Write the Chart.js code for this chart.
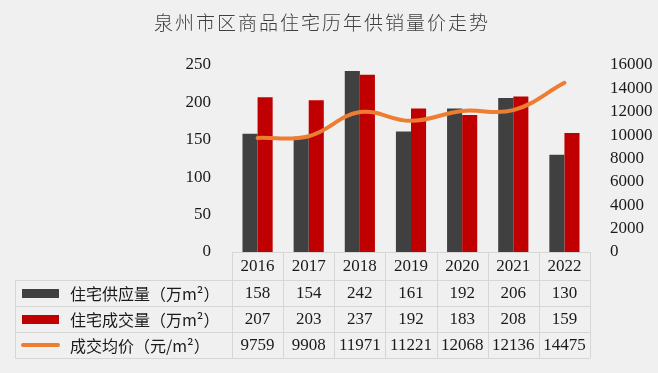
<!DOCTYPE html>
<html>
<head>
<meta charset="utf-8">
<script src="https://cdn.jsdelivr.net/npm/chart.js@4.4.1/dist/chart.umd.min.js"></script>
<style>
  html, body { margin: 0; padding: 0; background: #f0f0f0; }
  #wrap { width: 658px; height: 373px; }
</style>
</head>
<body>
<div id="wrap"><canvas id="c" width="658" height="373"></canvas></div>
<script>
const titleText = '泉州市区商品住宅历年供销量价走势';
const years = ['2016', '2017', '2018', '2019', '2020', '2021', '2022'];
const supply = [158, 154, 242, 161, 192, 206, 130];
const sales = [207, 203, 237, 192, 183, 208, 159];
const avgPrice = [9759, 9908, 11971, 11221, 12068, 12136, 14475];
const seriesNames = ['住宅供应量（万m²）', '住宅成交量（万m²）', '成交均价（元/m²）'];
const leftTicks = [0, 50, 100, 150, 200, 250];
const rightTicks = [0, 2000, 4000, 6000, 8000, 10000, 12000, 14000, 16000];

const COL_DARK = '#404040';
const COL_RED = '#c00000';
const COL_ORANGE = '#ed7d31';
const GRID = '#d6d6d6';
const TEXT = '#1a1a1a';
const SERIF = '"Liberation Serif", "Noto Sans CJK SC", serif';

const tablePlugin = {
  id: 'tablePlugin',
  afterDraw(chart) {
    const ctx = chart.ctx;
    const area = chart.chartArea;
    const xs = chart.scales.x;
    const n = years.length;
    const colW = (area.right - area.left) / n;
    const rows = [area.bottom, 280, 306, 332, 358];
    const tableLeft = 15;
    ctx.save();
    // title
    ctx.fillStyle = '#404040';
    ctx.font = '300 19px "Noto Sans CJK SC"';
    ctx.textAlign = 'center';
    ctx.textBaseline = 'middle';
    if ('letterSpacing' in ctx) ctx.letterSpacing = '2px';
    ctx.fillText(titleText, 322, 23);
    if ('letterSpacing' in ctx) ctx.letterSpacing = '0px';

    // grid lines
    ctx.strokeStyle = GRID;
    ctx.lineWidth = 1;
    ctx.beginPath();
    ctx.moveTo(area.left, rows[0] + 0.5); ctx.lineTo(area.right, rows[0] + 0.5);
    for (let r = 1; r < rows.length; r++) {
      ctx.moveTo(tableLeft, rows[r] + 0.5); ctx.lineTo(area.right, rows[r] + 0.5);
    }
    for (let i = 0; i <= n; i++) {
      const x = Math.round(area.left + i * colW) + 0.5;
      ctx.moveTo(x, rows[0]); ctx.lineTo(x, rows[rows.length - 1] + 0.5);
    }
    ctx.moveTo(tableLeft + 0.5, rows[1]); ctx.lineTo(tableLeft + 0.5, rows[rows.length - 1] + 0.5);
    ctx.stroke();

    // cell text
    ctx.fillStyle = TEXT;
    ctx.font = '17px ' + SERIF;
    ctx.textAlign = 'center';
    ctx.textBaseline = 'middle';
    const tableRows = [years, supply, sales, avgPrice];
    for (let r = 0; r < tableRows.length; r++) {
      const yc = (rows[r] + rows[r + 1]) / 2 + 1;
      for (let i = 0; i < n; i++) {
        const xc = xs.getPixelForValue(i);
        ctx.fillText(String(tableRows[r][i]), xc, yc);
      }
    }
    // legend keys + names
    const colors = [COL_DARK, COL_RED, COL_ORANGE];
    for (let r = 0; r < 3; r++) {
      const yc = (rows[r + 1] + rows[r + 2]) / 2;
      if (r < 2) {
        ctx.fillStyle = colors[r];
        ctx.fillRect(22, Math.round(yc - 4.5), 37, 9);
      } else {
        ctx.strokeStyle = colors[r];
        ctx.lineWidth = 4;
        ctx.lineCap = 'round';
        ctx.beginPath();
        ctx.moveTo(23, yc); ctx.lineTo(58, yc);
        ctx.stroke();
      }
      ctx.fillStyle = TEXT;
      ctx.font = '16px "Noto Sans CJK SC", ' + SERIF;
      ctx.textAlign = 'left';
      ctx.fillText(seriesNames[r], 70, yc + 1);
    }
    ctx.restore();
  }
};

new Chart(document.getElementById('c'), {
  data: {
    labels: years,
    datasets: [
      { type: 'line', label: seriesNames[2], data: avgPrice, yAxisID: 'y1',
        borderColor: COL_ORANGE, borderWidth: 4, pointRadius: 0, tension: 0.4,
        borderCapStyle: 'round', fill: false, order: 0 },
      { type: 'bar', label: seriesNames[0], data: supply, yAxisID: 'y',
        backgroundColor: COL_DARK, barPercentage: 1.0, categoryPercentage: 0.59, order: 1 },
      { type: 'bar', label: seriesNames[1], data: sales, yAxisID: 'y',
        backgroundColor: COL_RED, barPercentage: 1.0, categoryPercentage: 0.59, order: 1 }
    ]
  },
  options: {
    responsive: false,
    animation: false,
    layout: { padding: { top: 65, bottom: 121, left: 0, right: 0 } },
    plugins: { legend: { display: false }, title: { display: false }, tooltip: { enabled: false } },
    scales: {
      x: { display: false, offset: true, grid: { display: false } },
      y: {
        position: 'left', min: 0, max: 250,
        afterBuildTicks(s) { s.ticks = leftTicks.map(v => ({ value: v })); },
        afterFit(s) { s.width = 232; },
        grid: { display: false }, border: { display: false },
        ticks: { padding: 13, color: TEXT, autoSkip: false, font: { family: SERIF, size: 17 },
                 callback: v => String(v) }
      },
      y1: {
        position: 'right', min: 0, max: 16000,
        afterBuildTicks(s) { s.ticks = rightTicks.map(v => ({ value: v })); },
        afterFit(s) { s.width = 68; },
        grid: { display: false }, border: { display: false },
        ticks: { padding: 12, color: TEXT, autoSkip: false, font: { family: SERIF, size: 17 },
                 callback: v => String(v) }
      }
    }
  },
  plugins: [tablePlugin]
});
</script>
</body>
</html>
